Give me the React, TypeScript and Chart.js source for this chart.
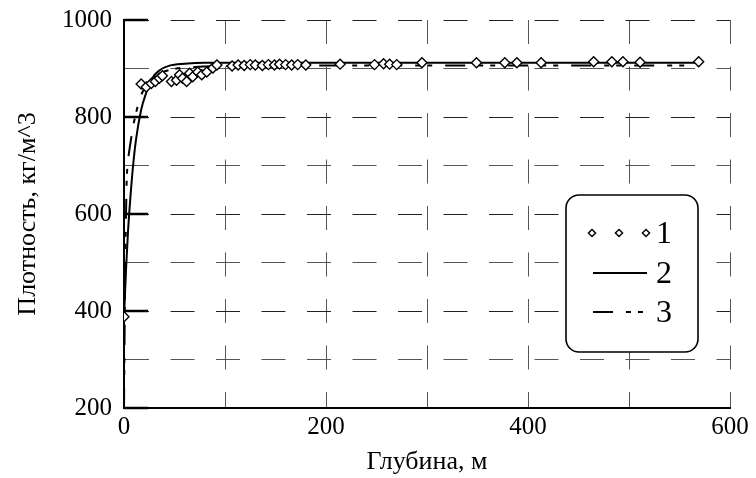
import React, { useEffect, useRef } from 'react';
import { Chart, registerables } from 'chart.js';

Chart.register(...registerables);

// ---- data ----
const obsDepth = [0, 17, 22, 27, 31, 35, 38, 47, 52, 55, 58, 62, 65, 68, 73, 77, 82, 88, 92, 107, 113, 119, 125, 130, 137, 143, 149, 154, 160, 166, 172, 180, 214, 248, 257, 263, 270, 295, 349, 377, 389, 413, 465, 483, 494, 511, 569];
const obsDensity = [388, 868, 862, 869, 873, 880, 885, 873, 876, 887, 880, 873, 890, 883, 893, 887, 893, 901, 907, 905, 907, 906, 908, 907, 906, 908, 907, 909, 908, 907, 908, 907, 909, 908, 910, 909, 908, 912, 912, 912, 912, 912, 914, 914, 914, 913, 914];

const model2Depth = [0, 2, 4, 6, 9, 12, 17, 22, 28, 35, 45, 60, 80, 120, 200, 300, 400, 500, 570];
const model2Density = [388, 485, 565, 625, 700, 755, 815, 850, 880, 896, 906, 910, 912, 912, 912, 912, 912, 912, 912];

const model3Depth = [0, 0.5, 1, 1.5, 2, 2.6, 3.5, 5, 7, 9, 11, 14, 18, 22, 28, 35, 50, 70, 100, 200, 400, 570];
const model3Density = [200, 330, 440, 530, 600, 665, 700, 727, 755, 780, 800, 825, 850, 865, 880, 890, 899, 903, 905, 906, 906, 906];

const seriesLabels = ['1', '2', '3'];
const xLabelTicks = [0, 200, 400, 600];
const yLabelTicks = [200, 400, 600, 800, 1000];
const xTitle = 'Глубина, м';
const yTitle = 'Плотность, кг/м^3';

const FONT = '"Liberation Serif", "Times New Roman", serif';

const toPts = (xs: number[], ys: number[]) => xs.map((x, i) => ({ x, y: ys[i] }));

const innerTicksPlugin = {
  id: 'innerTicks',
  beforeDatasetsDraw(chart: any) {
    const { ctx, chartArea, scales } = chart;
    ctx.save();
    ctx.strokeStyle = '#000';
    ctx.lineWidth = 2.5;
    yLabelTicks.forEach((v) => {
      const y = scales.y.getPixelForValue(v);
      ctx.beginPath();
      ctx.moveTo(chartArea.left, y);
      ctx.lineTo(chartArea.left + 24, y);
      ctx.stroke();
    });
    ctx.restore();
  },
};

const boxLegendPlugin = {
  id: 'boxLegend',
  afterDraw(chart: any) {
    const { ctx, chartArea } = chart;
    const left = chartArea.right - 164;
    const top = chartArea.top + 175;
    const w = 132;
    const h = 157;
    ctx.save();
    ctx.beginPath();
    ctx.roundRect(left, top, w, h, 13);
    ctx.fillStyle = '#fff';
    ctx.fill();
    ctx.lineWidth = 1.6;
    ctx.strokeStyle = '#000';
    ctx.stroke();
    const rows = [38, 78, 117];
    chart.data.datasets.forEach((ds: any, i: number) => {
      const y = top + rows[i];
      const x0 = left + 27;
      const x1 = left + 81;
      ctx.strokeStyle = '#000';
      if (i === 0) {
        ctx.lineWidth = 1.4;
        [left + 26, left + 53, left + 80].forEach((cx) => {
          const r = 3.6;
          ctx.beginPath();
          ctx.moveTo(cx - r, y);
          ctx.lineTo(cx, y - r);
          ctx.lineTo(cx + r, y);
          ctx.lineTo(cx, y + r);
          ctx.closePath();
          ctx.fillStyle = '#fff';
          ctx.fill();
          ctx.stroke();
        });
      } else {
        ctx.lineWidth = 2;
        ctx.setLineDash(ds.borderDash || []);
        ctx.beginPath();
        ctx.moveTo(x0, y);
        ctx.lineTo(x1, y);
        ctx.stroke();
        ctx.setLineDash([]);
      }
      ctx.fillStyle = '#000';
      ctx.font = `32px ${FONT}`;
      ctx.textBaseline = 'middle';
      ctx.textAlign = 'left';
      ctx.fillText(ds.label, left + 90, y + 2);
    });
    ctx.restore();
  },
};

export default function App() {
  const ref = useRef<HTMLCanvasElement | null>(null);

  useEffect(() => {
    if (!ref.current) return;
    Chart.defaults.font.family = FONT;
    Chart.defaults.color = '#000';
    const chart = new Chart(ref.current, {
      type: 'scatter',
      data: {
        datasets: [
          {
            label: seriesLabels[0],
            data: toPts(obsDepth, obsDensity),
            showLine: false,
            pointStyle: 'rectRot',
            pointRadius: 5,
            pointBackgroundColor: '#fff',
            pointBorderColor: '#000',
            pointBorderWidth: 1.4,
          },
          {
            label: seriesLabels[1],
            data: toPts(model2Depth, model2Density),
            showLine: true,
            pointRadius: 0,
            borderColor: '#000',
            borderWidth: 2,
            cubicInterpolationMode: 'monotone',
          },
          {
            label: seriesLabels[2],
            data: toPts(model3Depth, model3Density),
            showLine: true,
            pointRadius: 0,
            borderColor: '#000',
            borderWidth: 2,
            borderDash: [20, 13, 5, 7, 5, 13],
            cubicInterpolationMode: 'monotone',
          },
        ] as any,
      },
      plugins: [innerTicksPlugin, boxLegendPlugin],
      options: {
        responsive: false,
        animation: false,
        devicePixelRatio: 1,
        layout: { padding: { top: 20, right: 26, left: 0, bottom: 0 } },
        plugins: { legend: { display: false }, tooltip: { enabled: false } },
        scales: {
          x: {
            type: 'linear',
            min: 0,
            max: 600,
            afterFit: (s: any) => {
              s.height = 70;
              s.paddingLeft = 0;
              s.paddingRight = 0;
            },
            ticks: {
              stepSize: 100,
              padding: 4,
              font: { size: 25, family: FONT },
              color: '#000',
              callback: (v: any) => (xLabelTicks.includes(Number(v)) ? String(v) : ''),
            },
            grid: { color: '#555', lineWidth: 1, drawTicks: false },
            border: { display: true, color: '#000', width: 2, dash: [24, 22.5] },
            title: { display: true, text: xTitle, font: { size: 26, family: FONT }, color: '#000', padding: { top: 0, bottom: 0 } },
          },
          y: {
            type: 'linear',
            min: 200,
            max: 1000,
            afterFit: (s: any) => {
              s.width = 124;
              s.paddingTop = 0;
              s.paddingBottom = 0;
            },
            ticks: {
              stepSize: 100,
              padding: 12,
              font: { size: 25, family: FONT },
              color: '#000',
              callback: (v: any) => (yLabelTicks.includes(Number(v)) ? String(v) : ''),
            },
            grid: {
              color: (c: any) => (yLabelTicks.includes(c.tick?.value) ? '#222' : '#555'),
              lineWidth: 1,
              drawTicks: false,
            },
            border: { display: true, color: '#000', width: 2, dash: [24, 21.5] },
            title: { display: true, text: yTitle, font: { size: 26, family: FONT }, color: '#000', padding: { top: 12.5, bottom: 0 } },
          },
        },
      } as any,
    });
    return () => chart.destroy();
  }, []);

  return (
    <div style={{ position: 'absolute', left: 0, top: 0, width: 756, height: 478, background: '#fff' }}>
      <canvas ref={ref} width={756} height={478} style={{ width: 756, height: 478, display: 'block' }} />
    </div>
  );
}
